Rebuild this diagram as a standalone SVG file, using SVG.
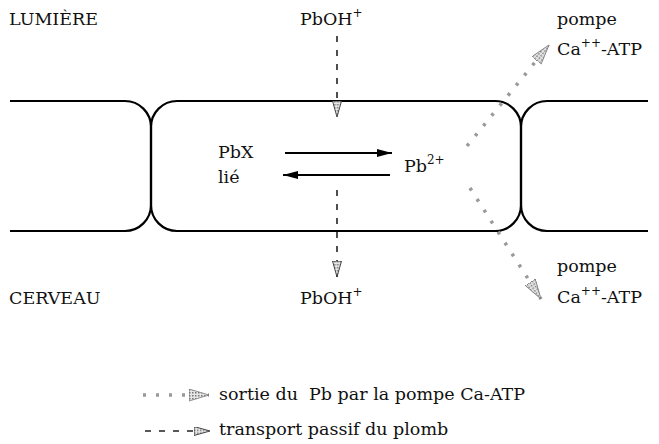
<svg xmlns="http://www.w3.org/2000/svg" width="659" height="444" viewBox="0 0 659 444">
<style>
text{font-family:"DejaVu Serif","Liberation Serif",serif;font-size:17.5px;fill:#111}
.sup{font-size:12px}
.cell{fill:none;stroke:#000;stroke-width:2.2}
.arr{fill:none;stroke:#000;stroke-width:2}
.dash{fill:none;stroke:#222;stroke-width:1.6;stroke-dasharray:6 8}
.pump{fill:none;stroke:#999;stroke-width:3.5;stroke-dasharray:3 10}
</style>
<defs>
<pattern id="stip" width="3" height="3" patternUnits="userSpaceOnUse">
<rect width="3" height="3" fill="#e6e6e6"/>
<rect width="1.5" height="1.5" fill="#777"/>
</pattern>
<marker id="blk" markerWidth="16" markerHeight="10" refX="15" refY="4" orient="auto" markerUnits="userSpaceOnUse">
<path d="M0,0 L15,4 L0,8 z" fill="#000"/>
</marker>
<marker id="gry" markerWidth="22" markerHeight="14" refX="20" refY="6" orient="auto" markerUnits="userSpaceOnUse">
<path d="M0,0 L20,6 L0,12 z" fill="url(#stip)" stroke="#777" stroke-width="0.8"/>
</marker>
<marker id="dsh" markerWidth="18" markerHeight="12" refX="16" refY="4.5" orient="auto" markerUnits="userSpaceOnUse">
<path d="M0,0 L16,4.5 L0,9 z" fill="url(#stip)" stroke="#333" stroke-width="0.9"/>
</marker>
</defs>

<g id="cell-left"><path class="cell" d="M10,101 H125 A26,26 0 0 1 151,127 V205 A26,26 0 0 1 125,231 H10"/></g>
<g id="cell-center"><rect class="cell" x="151" y="101" width="370" height="130" rx="26" ry="26"/></g>
<g id="cell-right"><path class="cell" d="M648,101 H547 A26,26 0 0 0 521,127 V205 A26,26 0 0 0 547,231 H648"/></g>

<g id="lumiere"><text x="9" y="25">LUMIÈRE</text></g>
<g id="cerveau"><text x="9" y="304">CERVEAU</text></g>
<g id="pboh-top"><text x="300" y="25">PbOH<tspan class="sup" dy="-8">+</tspan></text></g>
<g id="pboh-bottom"><text x="300" y="304">PbOH<tspan class="sup" dy="-8">+</tspan></text></g>
<g id="pbx"><text x="218" y="158">PbX</text><text x="218" y="183">lié</text></g>
<g id="pb2"><text x="404" y="172">Pb<tspan class="sup" dy="-8">2+</tspan></text></g>
<g id="pompe-top"><text x="557" y="25">pompe</text><text x="557" y="55">Ca<tspan class="sup" dy="-8">++</tspan><tspan dy="8">-ATP</tspan></text></g>
<g id="pompe-bottom"><text x="557" y="272">pompe</text><text x="557" y="303">Ca<tspan class="sup" dy="-8">++</tspan><tspan dy="8">-ATP</tspan></text></g>

<g id="connectors">
<line class="arr" x1="285" y1="153" x2="392" y2="153" marker-end="url(#blk)"/>
<line class="arr" x1="390" y1="175" x2="283" y2="175" marker-end="url(#blk)"/>
<line class="dash" x1="337" y1="36" x2="337" y2="117" marker-end="url(#dsh)"/>
<line class="dash" x1="337" y1="190" x2="337" y2="277" marker-end="url(#dsh)"/>
<line class="pump" x1="467" y1="146" x2="549" y2="45" marker-end="url(#gry)"/>
<line class="pump" x1="470" y1="188" x2="541" y2="299" marker-end="url(#gry)"/>
</g>

<g id="legend">
<line class="pump" x1="143" y1="395" x2="209" y2="395" marker-end="url(#gry)"/>
<text x="219" y="400" xml:space="preserve">sortie du  Pb par la pompe Ca-ATP</text>
<line class="dash" x1="145" y1="431" x2="210" y2="431" marker-end="url(#dsh)"/>
<text x="219" y="435">transport passif du plomb</text>
</g>
</svg>
